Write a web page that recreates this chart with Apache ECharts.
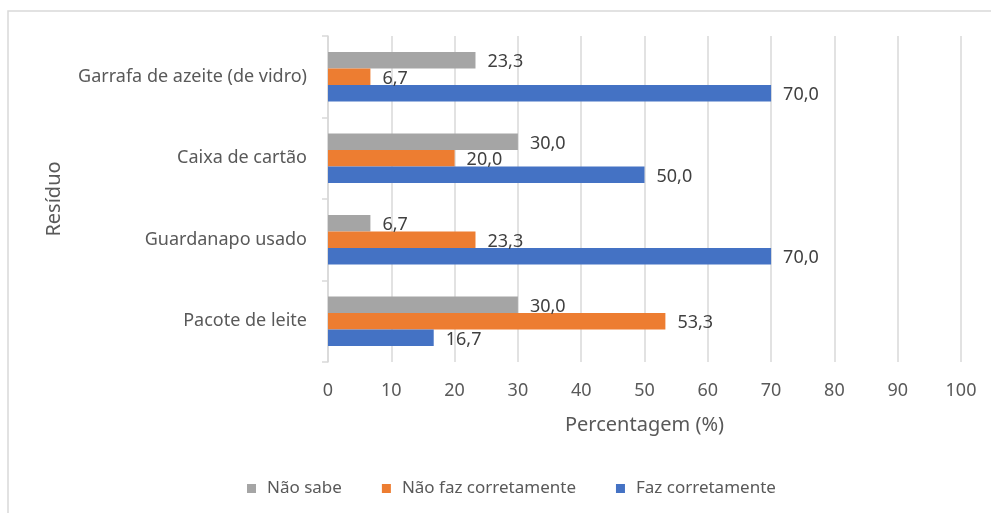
<!DOCTYPE html>
<html>
<head>
<meta charset="utf-8">
<script src="https://cdn.jsdelivr.net/npm/echarts@6/dist/echarts.min.js"></script>
<style>
  html, body { margin: 0; padding: 0; background: #fff; }
  #chart { width: 991px; height: 513px; }
</style>
</head>
<body>
<div id="chart"></div>
<script>
// bottom to top, as ECharts lays out a category y axis
const categories = ["Pacote de leite", "Guardanapo usado", "Caixa de cartão", "Garrafa de azeite (de vidro)"];
const fazCorretamente = [16.7, 70.0, 50.0, 70.0];
const naoFazCorretamente = [53.3, 23.3, 20.0, 6.7];
const naoSabe = [30.0, 6.7, 30.0, 23.3];
const legendOrder = ["Não sabe", "Não faz corretamente", "Faz corretamente"];

const font = "'Noto Sans', 'Open Sans', sans-serif";
const textColor = "#595959";

function barSeries(name, data, color) {
  return {
    name: name,
    type: "bar",
    data: data,
    barGap: "0%",
    barCategoryGap: "39%",
    itemStyle: { color: color },
    label: {
      show: true,
      position: "right",
      distance: 12,
      offset: [0, 2],
      color: "#404040",
      fontFamily: font,
      fontSize: 18,
      formatter: p => p.value.toFixed(1).replace(".", ",")
    }
  };
}

const chart = echarts.init(document.getElementById("chart"));
chart.setOption({
  animation: false,
  backgroundColor: "#fff",
  textStyle: { fontFamily: font },
  graphic: [{
    type: "rect",
    shape: { x: 8, y: 11, width: 1100, height: 700 },
    style: { fill: "none", stroke: "#d9d9d9", lineWidth: 1.5 },
    silent: true
  }],
  grid: { left: 328, top: 36, right: 30, bottom: 151, containLabel: false },
  legend: {
    data: legendOrder,
    top: 475,
    left: 242,
    itemWidth: 9,
    itemHeight: 9,
    itemGap: 40,
    icon: "rect",
    textStyle: { color: textColor, fontSize: 17, fontFamily: font, padding: [0, 0, 0, 6] }
  },
  xAxis: {
    type: "value",
    min: 0,
    max: 100,
    interval: 10,
    name: "Percentagem (%)",
    nameLocation: "middle",
    nameGap: 53,
    nameTextStyle: { color: textColor, fontSize: 20, fontFamily: font },
    axisLine: { show: false },
    axisTick: { show: false },
    axisLabel: { color: textColor, fontSize: 18, margin: 20, fontFamily: font },
    splitLine: { show: true, lineStyle: { color: "#d9d9d9", width: 1.5 } }
  },
  yAxis: {
    type: "category",
    data: categories,
    name: "Resíduo",
    nameLocation: "middle",
    nameRotate: 90,
    nameGap: 264,
    nameTextStyle: { color: textColor, fontSize: 20, fontFamily: font },
    axisLine: { show: true, lineStyle: { color: "#d9d9d9", width: 1.5 } },
    axisTick: { show: true, length: 6, lineStyle: { color: "#d9d9d9", width: 1.5 } },
    axisLabel: { color: textColor, fontSize: 18, margin: 21, fontFamily: font }
  },
  // first series is drawn at the top of each group
  series: [
    barSeries("Não sabe", naoSabe, "#a5a5a5"),
    barSeries("Não faz corretamente", naoFazCorretamente, "#ed7d31"),
    barSeries("Faz corretamente", fazCorretamente, "#4472c4")
  ]
});
</script>
</body>
</html>
